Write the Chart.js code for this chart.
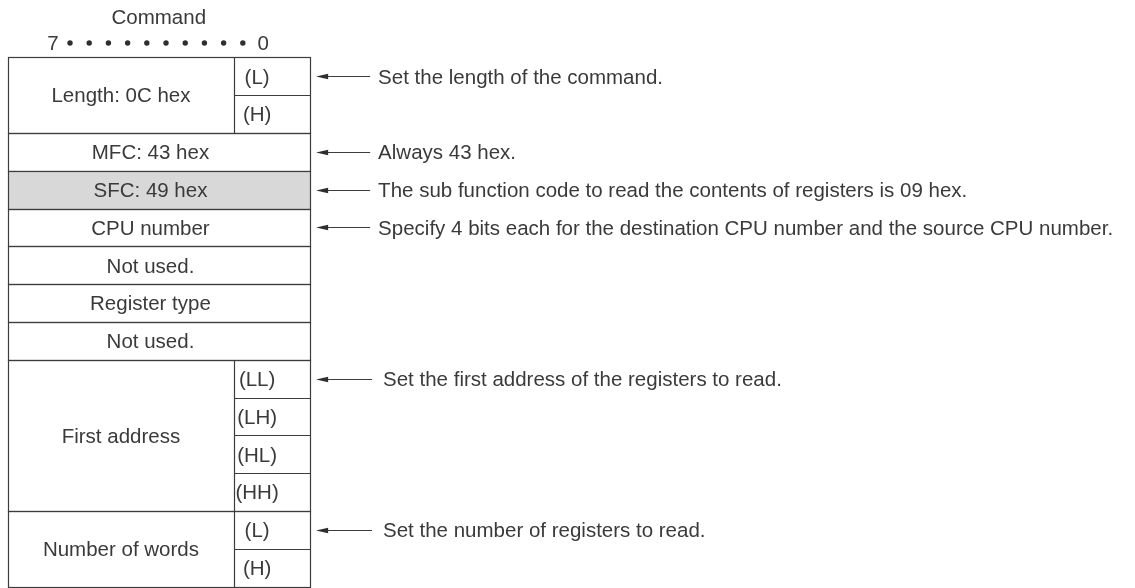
<!DOCTYPE html>
<html>
<head>
<meta charset="utf-8">
<script src="https://cdn.jsdelivr.net/npm/chart.js@4.4.1/dist/chart.umd.min.js"></script>
<style>
  html, body { margin: 0; padding: 0; background: #ffffff; }
  #wrap { width: 1135px; height: 588px; }
</style>
</head>
<body>
<div id="wrap"><canvas id="c" width="1135" height="588"></canvas></div>
<script>
// ---------- DATA ----------
const headerTitle = 'Command';
const bitLabels = ['7', '0'];
const bitDotCount = 10;
const fields = ['Length: 0C hex', 'MFC: 43 hex', 'SFC: 49 hex', 'CPU number', 'Not used.', 'Register type', 'Not used.', 'First address', 'Number of words'];
const fieldBytes = [2, 1, 1, 1, 1, 1, 1, 4, 2];
const byteLabels = [['(L)', '(H)'], [], [], [], [], [], [], ['(LL)', '(LH)', '(HL)', '(HH)'], ['(L)', '(H)']];
const descriptions = [
  'Set the length of the command.',
  'Always 43 hex.',
  'The sub function code to read the contents of registers is 09 hex.',
  'Specify 4 bits each for the destination CPU number and the source CPU number.',
  '', '', '',
  'Set the first address of the registers to read.',
  'Set the number of registers to read.'
];
const highlightedField = 'SFC: 49 hex';

// ---------- STYLE ----------
const FONT = '"Liberation Sans", Arial, sans-serif';
const FONT_SIZE = 20.5;
const CAP_HALF = FONT_SIZE * 0.716 / 2;
const TEXT_COLOR = '#3a3a3a';
const LINE_COLOR = '#3c3c3c';
const FILL_HIGHLIGHT = '#d8d8d8';
const TOTAL_BYTES = fieldBytes.reduce((a, b) => a + b, 0);
const descLineEnd = [9.59, 9.59, 9.59, 9.59, 0, 0, 0, 9.64, 9.64];
const descTextX = [9.80, 9.80, 9.80, 9.80, 0, 0, 0, 9.93, 9.93];

const diagramPlugin = {
  id: 'frameDiagram',
  afterDraw(chart) {
    const ctx = chart.ctx;
    const sx = chart.scales.x, sy = chart.scales.y;
    const X = v => sx.getPixelForValue(v);
    const Y = v => sy.getPixelForValue(v);
    const L = v => Math.round(v) + 0.5;
    const text = (s, xv, yv) => ctx.fillText(s, X(xv), Y(yv) + CAP_HALF);
    ctx.save();
    ctx.font = FONT_SIZE + 'px ' + FONT;
    ctx.fillStyle = TEXT_COLOR;
    ctx.textBaseline = 'alphabetic';
    ctx.textAlign = 'center';

    // header
    text(headerTitle, 4, -1.066);
    text(bitLabels[0], 1.2, -0.378);
    text(bitLabels[1], 6.76, -0.378);
    const d0 = 1.653, d1 = 6.223;
    for (let k = 0; k < bitDotCount; k++) {
      const dv = d0 + (d1 - d0) * k / (bitDotCount - 1);
      ctx.beginPath();
      ctx.arc(X(dv), Y(-0.378), 2.7, 0, Math.PI * 2);
      ctx.fillStyle = '#2e2e2e';
      ctx.fill();
    }
    ctx.fillStyle = TEXT_COLOR;

    let start = 0;
    fields.forEach((name, i) => {
      const n = fieldBytes[i];
      const top = L(Y(start)), bot = L(Y(start + n));
      const left = L(X(0)), right = L(X(8));
      if (name === highlightedField) {
        ctx.fillStyle = FILL_HIGHLIGHT;
        ctx.fillRect(left, top, right - left, bot - top);
        ctx.fillStyle = TEXT_COLOR;
      }
      ctx.strokeStyle = LINE_COLOR;
      ctx.lineWidth = 1.2;
      ctx.strokeRect(left, top, right - left, bot - top);

      const subs = byteLabels[i];
      if (subs.length) {
        const mid = L(X(6));
        ctx.beginPath();
        ctx.moveTo(mid, top); ctx.lineTo(mid, bot);
        for (let k = 1; k < subs.length; k++) {
          const yy = L(Y(start + k));
          ctx.moveTo(mid, yy); ctx.lineTo(right, yy);
        }
        ctx.stroke();
        subs.forEach((s, k) => text(s, 6.6, start + k + 0.5));
        text(name, 3.0, start + n / 2);
      } else {
        text(name, 3.78, start + n / 2);
      }

      const desc = descriptions[i];
      if (desc) {
        const ay = L(Y(start + 0.5));
        const tip = X(8.16);
        ctx.beginPath();
        ctx.moveTo(tip + 10, ay);
        ctx.lineTo(X(descLineEnd[i]), ay);
        ctx.lineWidth = 1;
        ctx.stroke();
        ctx.beginPath();
        ctx.moveTo(tip, ay);
        ctx.lineTo(tip + 12, ay - 2.8);
        ctx.lineTo(tip + 12, ay + 2.8);
        ctx.closePath();
        ctx.fillStyle = '#2e2e2e';
        ctx.fill();
        ctx.fillStyle = TEXT_COLOR;
        ctx.textAlign = 'left';
        text(desc, descTextX[i], start + 0.5);
        ctx.textAlign = 'center';
      }
      start += n;
    });
    ctx.restore();
  }
};

new Chart(document.getElementById('c'), {
  type: 'scatter',
  data: { datasets: [{ data: [], pointRadius: 0 }] },
  options: {
    responsive: false,
    animation: false,
    devicePixelRatio: 1,
    layout: { padding: { left: 7.5, top: 57.3, right: 0.5, bottom: 1.5 } },
    plugins: { legend: { display: false }, tooltip: { enabled: false } },
    scales: {
      x: { type: 'linear', min: 0, max: 29.8, display: false },
      y: { type: 'linear', min: 0, max: TOTAL_BYTES, reverse: true, display: false }
    }
  },
  plugins: [diagramPlugin]
});
</script>
</body>
</html>
